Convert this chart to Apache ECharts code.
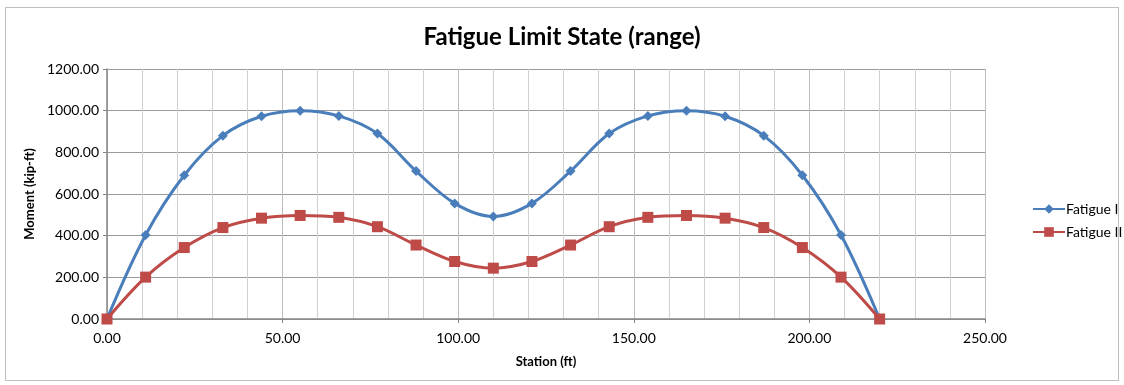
<!DOCTYPE html>
<html lang="en">
<head>
    <meta charset="UTF-8">
    <title>Fatigue Limit State (range)</title>
    <script src="https://cdn.jsdelivr.net/npm/echarts@6.0.0/dist/echarts.min.js"></script>
    <style>
        html, body { margin: 0; padding: 0; background: #fff; }
        #frame { position: absolute; left: 5px; top: 7px; width: 1112px; height: 372px; border: 1px solid #bfbfbf; }
    </style>
</head>
<body>
    <div id="frame"></div>
    <div id="main" style="position:absolute; left:0; top:0; width:1124px; height:385px;"></div>

    <script>
        // station (ft)
        var stations = [0, 11, 22, 33, 44, 55, 66, 77, 88, 99, 110, 121, 132, 143, 154, 165, 176, 187, 198, 209, 220];
        // moment (kip-ft)
        var fatigueI = [0, 403, 690, 880, 973, 1000, 975, 890, 710, 555, 492, 555, 710, 890, 975, 1000, 973, 880, 690, 403, 0];
        var fatigueII = [0, 201, 343, 439, 484, 497, 488, 443, 355, 276, 244, 276, 355, 443, 488, 497, 484, 439, 343, 201, 0];

        var seriesNames = ['Fatigue I', 'Fatigue II'];

        function pairs(ys) {
            return stations.map(function (x, i) { return [x, ys[i]]; });
        }

        var chart = echarts.init(document.getElementById('main'));

        var font = 'Lato, "Open Sans", sans-serif';

        chart.setOption({
            animation: false,
            title: {
                text: 'Fatigue Limit State (range)',
                left: 'center',
                top: 20,
                textStyle: { fontFamily: font, fontSize: 24, fontWeight: 'bold', color: '#000' }
            },
            legend: {
                orient: 'vertical',
                left: 1027,
                top: 197,
                itemGap: 9,
                itemWidth: 32,
                itemHeight: 12,
                textStyle: { fontFamily: font, fontSize: 14, color: '#000', padding: [0, 0, 0, -4] },
                data: seriesNames
            },
            grid: { left: 107, right: 139, top: 69, bottom: 66 },
            xAxis: {
                type: 'value',
                min: 0,
                max: 250,
                interval: 50,
                name: 'Station (ft)',
                nameLocation: 'middle',
                nameGap: 36,
                nameTextStyle: { fontFamily: font, fontSize: 13, fontWeight: 'bold', color: '#000' },
                axisLine: { lineStyle: { color: '#868686', width: 1.5 } },
                axisTick: { show: true, length: 4, lineStyle: { color: '#868686' } },
                axisLabel: {
                    fontFamily: font, fontSize: 14, color: '#000', margin: 12,
                    formatter: function (v) { return v.toFixed(2); }
                },
                splitLine: { show: true, lineStyle: { color: '#bdbdbd', width: 1 } },
                minorTick: { show: false, splitNumber: 5 },
                minorSplitLine: { show: true, lineStyle: { color: '#d0d0d0', width: 1 } }
            },
            yAxis: {
                type: 'value',
                min: 0,
                max: 1200,
                interval: 200,
                name: 'Moment (kip-ft)',
                nameLocation: 'middle',
                nameGap: 70,
                nameTextStyle: { fontFamily: font, fontSize: 13, fontWeight: 'bold', color: '#000' },
                axisLine: { show: true, lineStyle: { color: '#868686', width: 1.5 } },
                axisTick: { show: true, length: 4, lineStyle: { color: '#868686' } },
                axisLabel: {
                    fontFamily: font, fontSize: 14, color: '#000', margin: 8,
                    formatter: function (v) { return v.toFixed(2); }
                },
                splitLine: { show: true, lineStyle: { color: '#9a9a9a', width: 1 } }
            },
            series: [
                {
                    name: seriesNames[0],
                    type: 'line',
                    smooth: 0.35,
                    data: pairs(fatigueI),
                    symbol: 'diamond',
                    symbolSize: 10,
                    lineStyle: { color: '#4a7ebb', width: 3 },
                    itemStyle: { color: '#4a7ebb' }
                },
                {
                    name: seriesNames[1],
                    type: 'line',
                    smooth: 0.35,
                    data: pairs(fatigueII),
                    symbol: 'rect',
                    symbolSize: 11,
                    lineStyle: { color: '#be4b48', width: 3 },
                    itemStyle: { color: '#be4b48' }
                }
            ]
        });
    </script>
</body>
</html>
